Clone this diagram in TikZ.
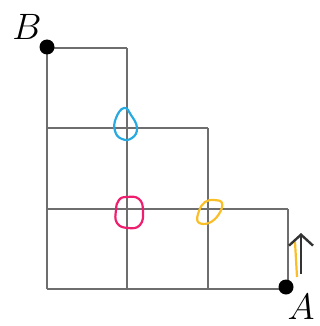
\documentclass[tikz,border=0pt]{standalone}
\usetikzlibrary{arrows.meta}
\definecolor{gridgray}{RGB}{110,110,110}
\definecolor{blobblue}{RGB}{40,170,225}
\definecolor{blobpink}{RGB}{240,30,110}
\definecolor{bloborange}{RGB}{250,190,40}
\newcommand{\biglbl}[1]{\scalebox{1.77}{\huge$#1$}}
\begin{document}
\begin{tikzpicture}[x=1pt,y=-1pt,
  gridline/.style={draw=gridgray,line width=1.7pt},
  blob/.style={line width=2.2pt,line join=round},
  dotnode/.style={circle,fill=black,inner sep=0pt,minimum size=15pt},
  lbl/.style={inner sep=0pt}]
\useasboundingbox (0,0) rectangle (320,326);
% grid
\coordinate (p00) at (47,48);  \coordinate (p10) at (127,48);
\coordinate (p01) at (47,128); \coordinate (p11) at (127,128); \coordinate (p21) at (208,128);
\coordinate (p02) at (47,209); \coordinate (p12) at (127,209); \coordinate (p22) at (208,209); \coordinate (p32) at (288,209);
\coordinate (p03) at (47,289); \coordinate (p13) at (127,289); \coordinate (p23) at (208,289); \coordinate (p33) at (288,289);
\draw[gridline] (p00) -- (p10);
\draw[gridline] (p01) -- (p21);
\draw[gridline] (p02) -- (p32);
\draw[gridline] (p03) -- (p33);
\draw[gridline] (p00) -- (p03);
\draw[gridline] (p10) -- (p13);
\draw[gridline] (p21) -- (p23);
\draw[gridline] (p32) -- (p33);
% blobs
\draw[blob,blobblue] plot[smooth cycle,tension=0.8] coordinates {(124,108) (131,115) (137,128) (132,138) (122,139) (115,131) (116,118)};
\draw[blob,blobpink] plot[smooth cycle,tension=0.8] coordinates {(127,197) (139,199) (143,211) (140,225) (128,228) (117,223) (116,210) (119,200)};
\draw[blob,bloborange] plot[smooth cycle,tension=0.7] coordinates {(205,202) (214,200) (222,203) (219,214) (209,223) (198,222) (199,211)};
% dots and labels
\node[dotnode] (B) at (47,47) {};
\node[dotnode] (A) at (286,287) {};
\node[lbl,anchor=center] (Blbl) at (27,27) {\biglbl{B}};
\node[lbl,anchor=center] (Albl) at (301,307) {\biglbl{A}};
% arrow
\coordinate (ys) at (297,277);
\coordinate (ye) at (295,242);
\draw[bloborange,line width=2.2pt] (ys) -- (ye);
\coordinate (as) at (301,274);
\coordinate (ae) at (301,233);
\draw[black!80,line width=2.2pt,-{Straight Barb[length=11pt,width=24pt,line width=2.4pt]}] (as) -- (ae);
\end{tikzpicture}
\end{document}
